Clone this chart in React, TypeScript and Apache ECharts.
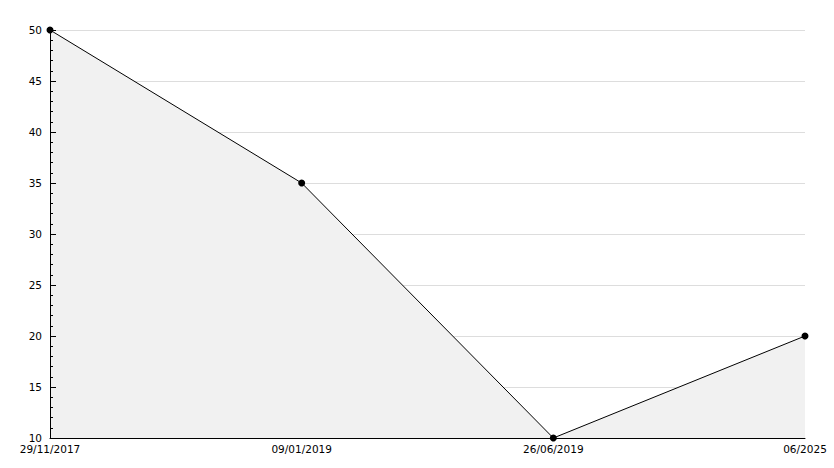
import React, { useEffect, useRef } from "react";
import * as echarts from "echarts";

const categories = ["29/11/2017", "09/01/2019", "26/06/2019", "06/2025"];
const values = [50, 35, 10, 20];
const yMin = 10;
const yMax = 50;
const yInterval = 5;

export default function App() {
  const ref = useRef<HTMLDivElement>(null);
  useEffect(() => {
    document.body.style.margin = "0";
    const chart = echarts.init(ref.current!, null, { renderer: "svg" });
    const labelStyle = {
      color: "#000",
      fontFamily: "DejaVu Sans",
      fontSize: 10.5,
    };
    chart.setOption({
      animation: false,
      backgroundColor: "#ffffff",
      grid: { left: 50, right: 29, top: 30, bottom: 30, containLabel: false },
      xAxis: {
        type: "category",
        data: categories,
        boundaryGap: false,
        z: 10,
        axisLine: { show: true, lineStyle: { color: "#000", width: 1 } },
        axisTick: { show: false },
        axisLabel: { ...labelStyle, margin: 5, interval: 0 },
        splitLine: { show: false },
      },
      yAxis: [
        {
          type: "value",
          min: yMin,
          max: yMax,
          interval: yInterval,
          axisLine: { show: false },
          axisTick: { show: false },
          axisLabel: { show: false },
          splitLine: { show: true, lineStyle: { color: "#dddddd", width: 1 } },
        },
        {
          type: "value",
          position: "left",
          min: yMin,
          max: yMax,
          interval: yInterval,
          z: 10,
          axisLine: { show: true, lineStyle: { color: "#000", width: 1 } },
          axisTick: { show: true, inside: true, length: 6, lineStyle: { color: "#000", width: 1 } },
          minorTick: { show: true, splitNumber: 5, length: 3, lineStyle: { color: "#000", width: 1 } },
          axisLabel: { ...labelStyle, margin: 8 },
          splitLine: { show: false },
        },
      ],
      series: [
        {
          type: "line",
          yAxisIndex: 0,
          data: values,
          symbol: "circle",
          symbolSize: 7,
          itemStyle: { color: "#000" },
          lineStyle: { color: "#000", width: 1 },
          areaStyle: { color: "#f1f1f1", opacity: 1 },
        },
      ],
    });
    return () => chart.dispose();
  }, []);
  return (
    <div
      ref={ref}
      style={{ position: "absolute", left: 0, top: 0, width: 834, height: 468 }}
    />
  );
}
